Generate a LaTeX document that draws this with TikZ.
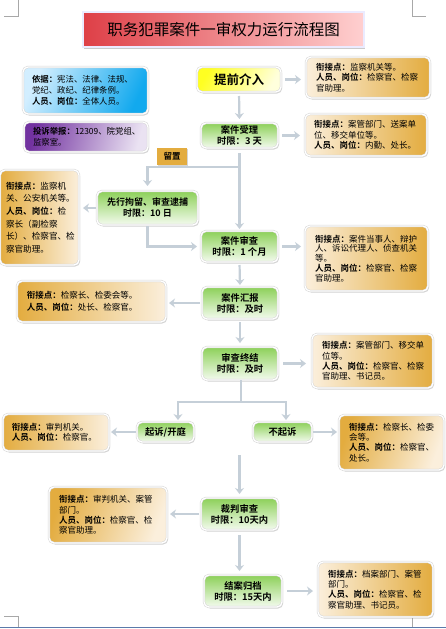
\documentclass[tikz,border=0pt]{standalone}
\usepackage{fontspec}
\setmainfont{Noto Sans CJK SC}[BoldFont={Noto Sans CJK SC Bold}]
\usetikzlibrary{shadows,arrows.meta}
\definecolor{gTop}{HTML}{8CD058}
\definecolor{gBot}{HTML}{F4FBEF}
\definecolor{oDark}{HTML}{E3AC3F}
\definecolor{oLight}{HTML}{FBEFDC}
\definecolor{lineC}{HTML}{C5CFD8}
\definecolor{edgeC}{HTML}{D4D4D4}
\definecolor{markC}{HTML}{A8A8A8}
\definecolor{pageLine}{HTML}{5A7AAA}
\definecolor{titleL}{HTML}{DE3F47}
\definecolor{titleR}{HTML}{FFD0D0}
\definecolor{blueL}{HTML}{D2EEFF}
\definecolor{blueR}{HTML}{12A9EE}
\definecolor{purpL}{HTML}{7232A0}
\definecolor{purpR}{HTML}{EAE2F2}
\definecolor{yelL}{HTML}{FFFF22}
\definecolor{yelR}{HTML}{FFFFDC}
\tikzset{
  box/.style={rounded corners=5pt, draw=edgeC, line width=0.5pt, double=white, double distance=1.3pt,
    drop shadow={shadow xshift=1.2pt, shadow yshift=-1.5pt, opacity=0.3, fill=black!55},
    inner sep=0pt, outer sep=0pt},
  proc/.style={box, top color=gTop, bottom color=gBot, align=center,
    font=\bfseries\fontsize{9.3}{11}\selectfont},
  infoR/.style={box, left color=oLight, right color=oDark, align=left,
    font=\fontsize{8.5}{10.3}\selectfont},
  infoL/.style={box, left color=oDark, right color=oLight, align=left,
    font=\fontsize{8.5}{10.3}\selectfont},
  conn/.style={draw=lineC, line width=2.2pt, -{Stealth[length=6pt,width=9pt]}},
  plain/.style={draw=lineC, line width=2.2pt},
  pagemark/.style={draw=markC, line width=0.6pt},
}
\begin{document}
\begin{tikzpicture}[x=1pt,y=-1pt]
\useasboundingbox (0,0) rectangle (446,629);
% page marks
\draw[pagemark] (4,16) -- (18,16) -- (18,0);
\draw[pagemark] (412,0) -- (412,16) -- (426,16);
\draw[pagemark] (4,616) -- (18,616) -- (18,627);
\draw[pagemark] (412,627) -- (412,616) -- (426,616);
\draw[draw=pageLine, line width=1pt] (0,627.5) -- (446,627.5);

% title
\node[draw=black!18, line width=0.5pt, double=white!92!blue, double distance=1.3pt,
  left color=titleL, right color=titleR,
  drop shadow={shadow xshift=1pt, shadow yshift=-1.5pt, opacity=0.35, fill=black!60},
  minimum width=281pt, minimum height=35pt, inner sep=0pt,
  font=\fontsize{15.5}{17}\selectfont] (title) at (223.5,29.5) {职务犯罪案件一审权力运行流程图};

% left info boxes
\node[box, left color=blueL, right color=blueR, shading angle=65, align=left,
  font=\fontsize{8.4}{10.7}\selectfont, text width=107pt, inner xsep=9pt,
  minimum height=47pt] (basis) at (85.5,90.5)
  {\textbf{依据：}宪法、法律、法规、\\党纪、政纪、纪律条例。\\\textbf{人员、岗位：}全体人员。};
\node[box, left color=purpL, right color=purpR, shading angle=75, align=left,
  font=\fontsize{8.4}{10.7}\selectfont, text width=106pt, inner xsep=9pt,
  minimum height=30pt] (complaint) at (86,137)
  {\textbf{投诉举报：}12309、院党组、\\监察室。};

% main flow
\node[box, left color=yelL, right color=yelR, shading angle=60, align=center,
  font=\bfseries\fontsize{12.5}{14}\selectfont, minimum width=84pt, minimum height=25pt]
  (early) at (239,79.5) {提前介入};
\node[infoR, text width=104pt, inner xsep=10pt, minimum height=41pt] (r1) at (368,77.5)
  {\textbf{衔接点：}监察机关等。\\\textbf{人员、岗位：}检察官、检察\\官助理。};

\node[proc, minimum width=77pt, minimum height=25pt] (accept) at (239.5,135.5)
  {案件受理\\时限：3 天};
\node[infoR, text width=104pt, inner xsep=9pt, minimum height=42pt] (r2) at (366,135)
  {\textbf{衔接点：}案管部门、送案单\\位、移交单位等。\\\textbf{人员、岗位：}内勤、处长。};

\node[fill=oDark, inner sep=0pt, minimum width=30pt, minimum height=17pt,
  drop shadow={shadow xshift=1pt, shadow yshift=-1pt, opacity=0.3, fill=black!55},
  font=\bfseries\fontsize{8.5}{10}\selectfont] (hold) at (172,156.5) {留置};

\node[proc, font=\bfseries\fontsize{9}{11}\selectfont, minimum width=101pt, minimum height=34pt]
  (detain) at (147.5,208) {先行拘留、审查逮捕\\时限：10 日};
\node[infoL, font=\fontsize{8.6}{12.7}\selectfont, text width=67pt, inner xsep=6pt,
  minimum height=95pt] (l3) at (39.5,217.5)
  {\textbf{衔接点：}监察机\\关、公安机关等。\\\textbf{人员、岗位：}检\\察长（副检察\\长）、检察官、检\\察官助理。};

\node[proc, minimum width=77pt, minimum height=31pt] (review) at (239.5,246.5)
  {案件审查\\时限：1 个月};
\node[infoR, font=\fontsize{8.5}{9.5}\selectfont, text width=103pt, inner xsep=10pt,
  minimum height=65pt] (r3) at (366.5,258.5)
  {\textbf{衔接点：}案件当事人、辩护\\人、诉讼代理人、侦查机关\\等。\\[1pt]\textbf{人员、岗位：}检察官、检察\\官助理。};

\node[proc, minimum width=76pt, minimum height=32pt] (report) at (240,303)
  {案件汇报\\时限：及时};
\node[infoL, font=\fontsize{8.5}{12}\selectfont, text width=129pt, inner xsep=10pt,
  minimum height=41pt] (l4) at (91.5,301.5)
  {\textbf{衔接点：}检察长、检委会等。\\\textbf{人员、岗位：}处长、检察官。};

\node[proc, minimum width=76pt, minimum height=33pt] (conclude) at (240,363.5)
  {审查终结\\时限：及时};
\node[infoR, text width=101pt, inner xsep=10pt, minimum height=54pt] (r5) at (372.5,361)
  {\textbf{衔接点：}案管部门、移交单\\位等。\\\textbf{人员、岗位：}检察官、检察\\官助理、书记员。};

\node[proc, minimum width=57pt, minimum height=20pt] (pros) at (165.5,432) {起诉/开庭};
\node[infoL, text width=88pt, inner xsep=9pt, minimum height=37pt] (l6) at (56,432.5)
  {\textbf{衔接点：}审判机关。\\\textbf{人员、岗位：}检察官。};

\node[proc, minimum width=59pt, minimum height=20pt] (nopros) at (282.5,432) {不起诉};
\node[infoL, shading angle=70, text width=85pt, inner xsep=10pt, minimum height=55pt] (r7) at (391.5,442.5)
  {\textbf{衔接点：}检察长、检委\\会等。\\\textbf{人员、岗位：}检察官、\\处长。};

\node[proc, minimum width=77pt, minimum height=32pt] (trial) at (239.5,514)
  {裁判审查\\时限：10天内};
\node[infoL, shading angle=70, text width=98pt, inner xsep=10pt, minimum height=56pt] (l8) at (108,515)
  {\textbf{衔接点：}审判机关、案管\\部门。\\\textbf{人员、岗位：}检察官、检\\察官助理。};

\node[proc, minimum width=78pt, minimum height=32pt] (archive) at (243,591)
  {结案归档\\时限：15天内};
\node[infoR, text width=95pt, inner xsep=10pt, minimum height=55pt] (r9) at (375.5,589.5)
  {\textbf{衔接点：}档案部门、案管\\部门。\\\textbf{人员、岗位：}检察官、检\\察官助理、书记员。};

% connectors
\coordinate (split1) at (239.5,167);
\coordinate (split2) at (241,402);
\coordinate (gapstart) at (239.5,455);

\draw[conn, shorten <=4pt, shorten >=5pt] (early.east) -- (r1.west |- early.east);
\draw[conn, shorten <=4pt, shorten >=4pt] (early.south) -- (accept.north);
\draw[conn, shorten <=4pt, shorten >=5pt] (accept.east) -- (r2.west |- accept.east);
\draw[conn, shorten <=5pt, shorten >=2pt] (accept.south) -- (review.north);
\draw[conn, shorten >=5pt] (split1) -| (detain.north);
\draw[conn, shorten <=1pt, shorten >=4pt] (detain.west) -- (l3.east |- detain.west);
\draw[conn, shorten <=1pt, shorten >=4pt] (detain.south) |- (review.west);
\draw[conn, shorten <=4pt, shorten >=4pt] (review.east) -- (r3.west |- review.east);
\draw[conn, shorten <=3pt, shorten >=2pt] (review.south) -- (report.north);
\draw[conn, shorten <=2pt, shorten >=3pt] (report.west) -- (l4.east |- report.west);
\draw[conn, shorten <=3pt, shorten >=4pt] (report.south) -- (conclude.north);
\draw[conn, shorten <=5pt, shorten >=6pt] (conclude.east) -- (r5.west |- conclude.east);
\draw[plain, shorten <=0pt] (conclude.south -| split2) -- (split2);
\draw[conn, shorten >=2pt] (split2) -| ([xshift=12.5pt]pros.north);
\draw[conn, shorten >=2pt] (split2) -| ([xshift=3.5pt]nopros.north);
\draw[conn, shorten <=1pt, shorten >=2pt] (pros.west) -- (l6.east |- pros.west);
\draw[conn, shorten <=1pt, shorten >=2pt] (nopros.east) -- (r7.west |- nopros.east);
\draw[conn, shorten >=4pt] (gapstart) -- (trial.north);
\draw[conn, shorten <=2pt, shorten >=3pt] (trial.west) -- (l8.east |- trial.west);
\draw[conn, shorten <=5pt, shorten >=4pt] (trial.south) -- (trial.south |- archive.north);
\draw[conn, shorten <=5pt, shorten >=5pt] (archive.east) -- (r9.west |- archive.east);
\end{tikzpicture}
\end{document}
